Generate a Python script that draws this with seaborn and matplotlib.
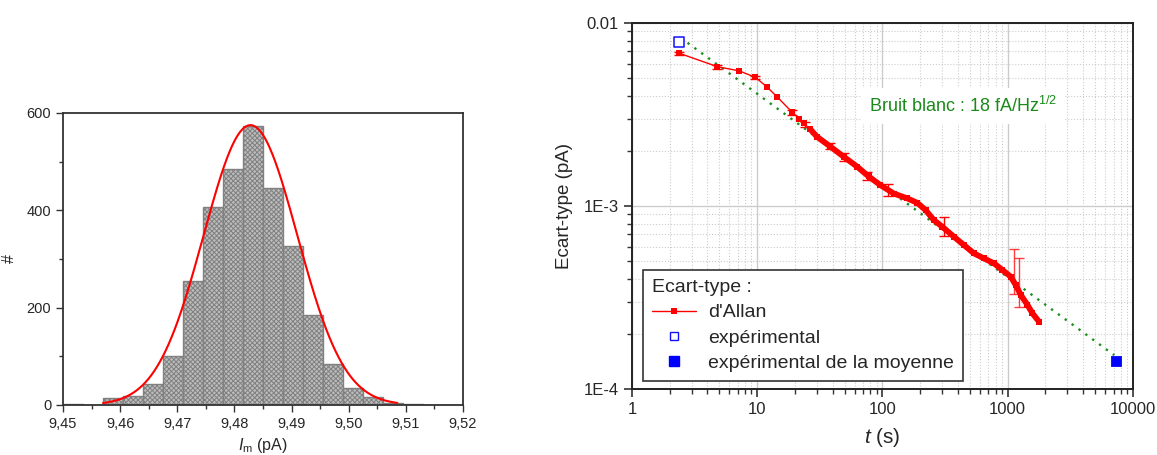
import numpy as np
import pandas as pd
import matplotlib
matplotlib.use("Agg")
import matplotlib.pyplot as plt
import seaborn as sns
from matplotlib.ticker import FuncFormatter, MultipleLocator, LogLocator, FixedLocator, FixedFormatter, NullFormatter
from matplotlib.lines import Line2D

# --- histogram of the measured current ---
bin_edges = [9.45, 9.4535, 9.457, 9.4605, 9.464, 9.4675, 9.471, 9.4745, 9.478, 9.4815, 9.485,
             9.4885, 9.492, 9.4955, 9.499, 9.5025, 9.506, 9.5095, 9.513, 9.5165, 9.52]
counts = [2, 0, 14, 19, 44, 101, 254, 407, 485, 573, 446, 327, 185, 85, 35, 16, 5, 3, 1, 1]

# gaussian fit parameters
fit_mu = 9.4828
fit_sigma = 0.0082
fit_amp = 575
fit_range = [9.457, 9.5085]

# --- Allan deviation ---
allan_t = [2.39, 4.81, 7.22, 9.64, 11.9, 14.4, 18.9, 21.7, 23.5, 26.5, 30.0, 38.4, 49.0, 62.8,
           77.6, 96.4, 123, 158, 190, 221, 257, 300, 372, 447, 537, 646, 777, 907, 1057, 1159,
           1271, 1438, 1577, 1780]
allan_s = [0.00683, 0.00577, 0.00547, 0.00505, 0.00449, 0.00395, 0.00327, 0.00299, 0.00283,
           0.00263, 0.00239, 0.00211, 0.00186, 0.00164, 0.00145, 0.00130, 0.00117, 0.00110,
           0.00104, 0.00095, 0.000838, 0.000771, 0.000679, 0.000612, 0.000551, 0.000517,
           0.000486, 0.000447, 0.000411, 0.00037, 0.000327, 0.000288, 0.000259, 0.000233]

# error bars (t, low, high)
err_t = [2.39, 4.81, 9.64, 18.9, 23.9, 38.4, 49.0, 75.0, 110, 309, 1123, 1232]
err_lo = [0.00668, 0.00561, 0.00492, 0.00314, 0.00269, 0.00204, 0.00177, 0.00139, 0.00113,
          0.000686, 0.000329, 0.000281]
err_hi = [0.00697, 0.00588, 0.00513, 0.00335, 0.00286, 0.00220, 0.00195, 0.00154, 0.00132,
          0.000875, 0.000580, 0.000518]

# experimental std points
exp_t = [2.39]
exp_s = [0.00787]
mean_t = [7300]
mean_s = [0.000143]

# white noise line endpoints (18 fA/Hz^1/2)
white_t = [2.45, 7100]
white_s = [0.0083, 0.000153]

sns.set_style("white")
plt.rcParams["font.family"] = ["Liberation Sans", "DejaVu Sans"]
plt.rcParams["mathtext.fontset"] = "custom"
plt.rcParams["mathtext.rm"] = "Liberation Sans"
plt.rcParams["mathtext.it"] = "Liberation Sans:italic"
plt.rcParams["hatch.linewidth"] = 0.7

fig = plt.figure(figsize=(11.57, 4.55), dpi=100)
ax1 = fig.add_axes([0.0545, 0.1099, 0.3457, 0.6418])
ax2 = fig.add_axes([0.5462, 0.1451, 0.4330, 0.8044])

# ---------- left: histogram ----------
edges = np.array(bin_edges)
hist_df = pd.DataFrame({"center": (edges[:-1] + edges[1:]) / 2, "count": counts})
sns.histplot(data=hist_df, x="center", weights="count", bins=bin_edges, ax=ax1,
             color="#bcbcbc", alpha=1)
for p in ax1.patches:
    p.set_facecolor("#bcbcbc")
    p.set_edgecolor("#808080")
    p.set_linewidth(1.0)
    p.set_hatch("xxxxxxx")

gx = np.linspace(fit_range[0], fit_range[1], 300)
gy = fit_amp * np.exp(-(gx - fit_mu) ** 2 / (2 * fit_sigma ** 2))
sns.lineplot(x=gx, y=gy, ax=ax1, color="red", linewidth=1.5)

ax1.set_xlim(9.45, 9.52)
ax1.set_ylim(0, 600)
ax1.xaxis.set_major_locator(MultipleLocator(0.01))
ax1.xaxis.set_minor_locator(MultipleLocator(0.005))
ax1.yaxis.set_major_locator(MultipleLocator(200))
ax1.yaxis.set_minor_locator(MultipleLocator(100))
ax1.xaxis.set_major_formatter(FuncFormatter(lambda v, pos: f"{v:.2f}".replace(".", ",")))
ax1.tick_params(axis="both", which="major", direction="out", length=5, width=1,
                labelsize=10.5, color="#333333", bottom=True, left=True, top=False, right=False)
ax1.tick_params(axis="both", which="minor", direction="out", length=3, width=1,
                color="#333333", bottom=True, left=True)
for s in ax1.spines.values():
    s.set_color("#333333")
    s.set_linewidth(1.3)
ax1.set_xlabel(r"$\mathit{I}_{\mathrm{m}}$ (pA)", fontsize=11.5, labelpad=4)
ax1.set_ylabel("#", fontsize=11.5)
ax1.yaxis.set_label_coords(-0.115, 0.5)

# ---------- right: Allan deviation ----------
ax2.set_xscale("log")
ax2.set_yscale("log")
ax2.set_xlim(1, 10000)
ax2.set_ylim(1e-4, 1e-2)
ax2.set_axisbelow(True)
ax2.grid(True, which="major", color="#cccccc", linewidth=1, linestyle="-")
ax2.grid(True, which="minor", color="#cccccc", linewidth=0.8, linestyle=":")

sns.lineplot(x=white_t, y=white_s, ax=ax2, color="#1f8f1f", linewidth=1.7,
             linestyle=(0, (1, 2.6)))

allan_df = pd.DataFrame({"t": allan_t, "s": allan_s})
dense = allan_df[allan_df["t"] >= 26]
sns.lineplot(data=dense, x="t", y="s", ax=ax2, color="red", linewidth=4.2, sort=False,
             estimator=None)
sns.lineplot(data=allan_df, x="t", y="s", ax=ax2, color="red", linewidth=1, marker="s",
             markersize=3.8, markeredgewidth=0, sort=False, estimator=None)

err_df = pd.DataFrame({"t": err_t, "lo": err_lo, "hi": err_hi})
err_df["mid"] = (err_df["lo"] + err_df["hi"]) / 2
for i, row in err_df.iterrows():
    a = 0.75 if row["t"] > 1000 else 1.0
    ax2.errorbar(row["t"], row["mid"], yerr=[[row["mid"] - row["lo"]], [row["hi"] - row["mid"]]],
                 fmt="none", ecolor="red", elinewidth=1, capsize=3.5, capthick=1, alpha=a)

sns.scatterplot(x=exp_t, y=exp_s, ax=ax2, marker="s", s=55, facecolor="white",
                edgecolor="#1010ff", linewidth=1.1, zorder=5)
sns.scatterplot(x=mean_t, y=mean_s, ax=ax2, marker="s", s=55, color="#0000ff",
                edgecolor="#0000ff", zorder=5)

ax2.xaxis.set_major_locator(FixedLocator([1, 10, 100, 1000, 10000]))
ax2.xaxis.set_major_formatter(FixedFormatter(["1", "10", "100", "1000", "10000"]))
ax2.xaxis.set_minor_locator(LogLocator(base=10, subs=np.arange(2, 10), numticks=20))
ax2.xaxis.set_minor_formatter(NullFormatter())
ax2.yaxis.set_major_locator(FixedLocator([1e-4, 1e-3, 1e-2]))
ax2.yaxis.set_major_formatter(FixedFormatter(["1E-4", "1E-3", "0.01"]))
ax2.yaxis.set_minor_locator(LogLocator(base=10, subs=np.arange(2, 10), numticks=20))
ax2.yaxis.set_minor_formatter(NullFormatter())
ax2.tick_params(axis="both", which="major", direction="out", length=6, width=1.2,
                labelsize=12, color="#333333", bottom=True, left=True, top=False, right=False)
ax2.tick_params(axis="both", which="minor", direction="out", length=3.5, width=1,
                color="#333333", bottom=True, left=True, top=False, right=False)
for s in ax2.spines.values():
    s.set_color("#222222")
    s.set_linewidth(1.4)
ax2.set_xlabel(r"$\mathit{t}$ (s)", fontsize=15, labelpad=6)
ax2.set_ylabel("Ecart-type (pA)", fontsize=13.5, labelpad=8)

ax2.text(0.661, 0.773, r"Bruit blanc : 18 fA/Hz$^{1/2}$", transform=ax2.transAxes,
         ha="center", va="center", fontsize=13, color="#1a8a1a",
         bbox=dict(facecolor="white", edgecolor="none", pad=6))

handles = [
    Line2D([], [], color="red", linewidth=1, marker="s", markersize=4, markeredgewidth=0),
    Line2D([], [], color="#1010ff", linestyle="none", marker="s", markersize=6,
           markerfacecolor="white", markeredgewidth=1),
    Line2D([], [], color="#0000ff", linestyle="none", marker="s", markersize=7),
]
labels = ["d'Allan", "expérimental", "expérimental de la moyenne"]
leg = ax2.legend(handles, labels, title="Ecart-type :", loc="lower left",
                 bbox_to_anchor=(0.022, 0.022), borderaxespad=0, fontsize=14,
                 title_fontsize=14, alignment="left", frameon=True, fancybox=False,
                 edgecolor="#333333", framealpha=1, labelspacing=0.4, handlelength=2.3,
                 handletextpad=0.6, borderpad=0.45)
leg.get_frame().set_linewidth(1.2)

fig.savefig("out.png", dpi=100)
